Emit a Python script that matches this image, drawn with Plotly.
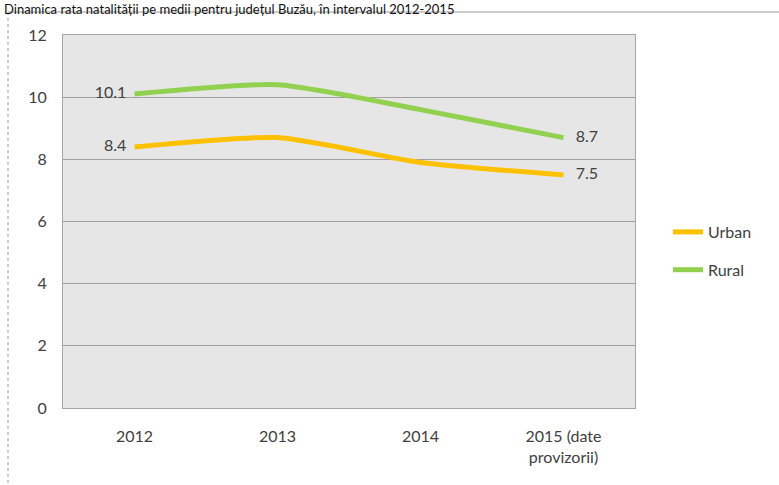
import plotly.graph_objects as go

years = ["2012", "2013", "2014", "2015 (date<br>provizorii)"]
urban = [8.4, 8.7, 7.9, 7.5]
rural = [10.1, 10.4, 9.6, 8.7]
y_ticks = [0, 2, 4, 6, 8, 10, 12]
title_text = "Dinamica rata natalității pe medii pentru județul Buzău, în intervalul 2012-2015"

FONT = "Lato, 'Open Sans', sans-serif"
TXT = "#404040"

W, H = 779, 485
L, R, T, B = 63, 144, 35, 77
pw, ph = W - L - R, H - T - B


def px_x(x):
    return (x - L) / pw


def px_y(y):
    return (H - B - y) / ph


def end_labels(vals):
    # first label left of the line, last label right of it
    return [f"{vals[0]}  ", "", "", f"   {vals[-1]}"]


positions = ["middle left", "top center", "top center", "middle right"]

fig = go.Figure()
fig.add_trace(go.Scatter(
    x=years, y=urban, name="Urban", mode="lines+text", legendgroup="u",
    line=dict(color="#FFC000", width=5, shape="spline", smoothing=0.6),
    text=end_labels(urban), textposition=positions,
    textfont=dict(size=16, color=TXT, family=FONT), cliponaxis=False,
))
fig.add_trace(go.Scatter(
    x=years, y=rural, name="Rural", mode="lines+text", legendgroup="r",
    line=dict(color="#92D050", width=5, shape="spline", smoothing=0.6),
    text=end_labels(rural), textposition=positions,
    textfont=dict(size=16, color=TXT, family=FONT), cliponaxis=False,
))

# outer chart frame (left and top edges visible)
fig.add_shape(type="line", xref="paper", yref="paper",
              x0=px_x(8), x1=px_x(8), y0=px_y(12), y1=px_y(485),
              line=dict(color="#9a9a9a", width=1, dash="dot"))
fig.add_shape(type="line", xref="paper", yref="paper",
              x0=px_x(8), x1=px_x(779), y0=px_y(12), y1=px_y(12),
              line=dict(color="#9a9a9a", width=1))

fig.add_annotation(text=title_text, xref="paper", yref="paper",
                   x=px_x(2), y=px_y(-1), xanchor="left", yanchor="top",
                   showarrow=False, font=dict(size=13, color="#111111", family=FONT))

fig.update_layout(
    width=W, height=H,
    margin=dict(l=L, r=R, t=T, b=B, autoexpand=False),
    paper_bgcolor="white",
    plot_bgcolor="#e6e6e6",
    font=dict(family=FONT, size=16, color=TXT),
    showlegend=True,
    legend=dict(x=px_x(668), y=px_y(251), xanchor="left", yanchor="middle",
                traceorder="grouped", tracegroupgap=14,
                font=dict(size=16, color=TXT, family=FONT),
                bgcolor="rgba(0,0,0,0)"),
    xaxis=dict(type="category", range=[-0.5, 3.5], showgrid=False,
               showline=True, linecolor="#a6a6a6", linewidth=1, mirror=True,
               ticks="", tickfont=dict(size=16, color=TXT, family=FONT), ticklabelstandoff=14),
    yaxis=dict(range=[0, 12], tickvals=y_ticks, showgrid=True, gridcolor="#a0a0a0", gridwidth=1,
               showline=True, linecolor="#a6a6a6", linewidth=1, mirror=True, zeroline=False,
               ticks="", tickfont=dict(size=16, color=TXT, family=FONT), ticklabelstandoff=12),
)

# drop the default page margin so the figure sits at the window's corner
fig.write_html("out.html", config={"displayModeBar": False},
               post_script="document.body.style.margin='0';")
